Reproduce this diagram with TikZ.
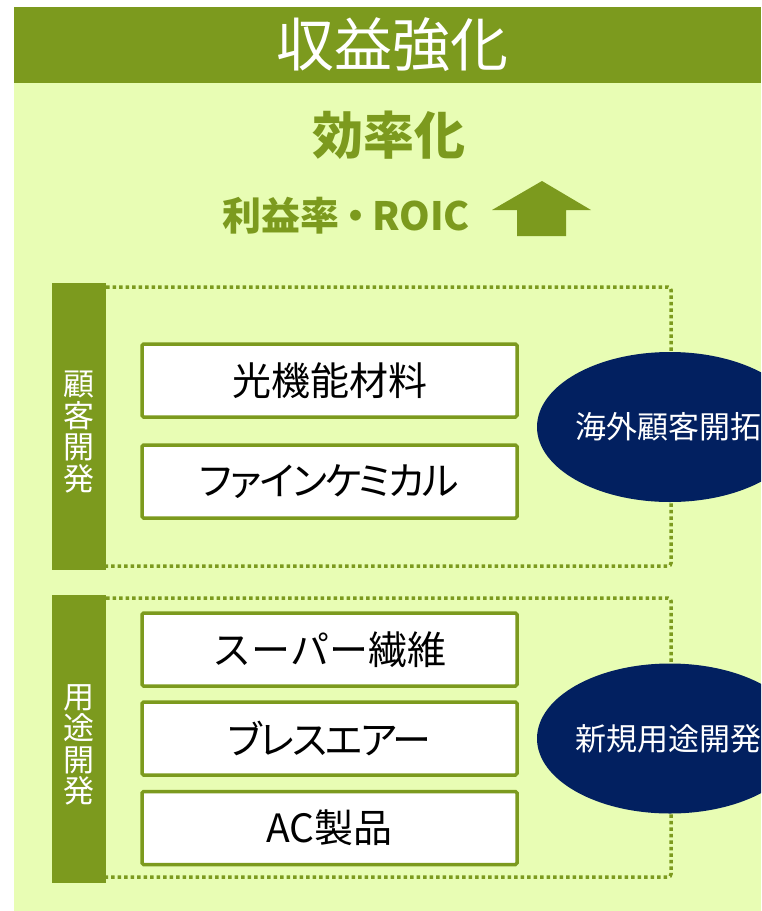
\documentclass[tikz,border=0pt]{standalone}
\usepackage{fontspec}
\setmainfont{Noto Sans CJK JP}
\newfontfamily\boxfont{Noto Sans CJK JP}
\newfontfamily\kanafont[RawFeature=+palt, LetterSpace=-5]{Noto Sans CJK JP}
\definecolor{olive}{RGB}{124,154,30}
\definecolor{pale}{RGB}{232,253,180}
\definecolor{navy}{RGB}{2,32,96}
\tikzset{
  itembox/.style={draw=olive, line width=3.5pt, fill=white, rounded corners=1.5pt,
    minimum width=375pt, minimum height=73pt, inner sep=0pt, text=black,
    font=\boxfont\fontsize{39}{42}\selectfont},
  kanabox/.style={itembox, font=\kanafont\fontsize{39}{42}\selectfont},
  sidebar/.style={fill=olive},
  sidetext/.style={text=white, align=center, inner sep=0pt,
    font=\fontsize{31}{31.5}\selectfont},
  frame/.style={draw=olive, line width=3.5pt, dash pattern=on 3.5pt off 3pt, rounded corners=3pt},
  oval/.style={ellipse, fill=navy, minimum width=266pt, minimum height=150pt, inner sep=0pt},
  ovaltext/.style={text=white, font=\fontsize{31}{33}\selectfont, inner sep=0pt},
  headtext/.style={text=olive, inner sep=0pt}
}
\usetikzlibrary{shapes.geometric}
\begin{document}
\begin{tikzpicture}[x=1pt, y=-1pt]
\useasboundingbox (0,0) rectangle (761,911);
\clip (0,0) rectangle (761,911);
% backgrounds
\fill[pale] (14,83) rectangle (761,911);
\fill[olive] (14,7) rectangle (761,83);
\node[text=white, font=\fontsize{58}{62}\selectfont, inner sep=0pt] (title) at (392,45) {収益強化};
\node[headtext, font=\bfseries\fontsize{51}{54}\selectfont] (eff) at (389,135) {効率化};
\node[headtext, font=\bfseries\fontsize{39}{42}\selectfont] (roic) at (346,216) {利益率\kern-3pt・\kern-3pt ROIC};
\fill[olive] (492,210) -- (542,181) -- (591,210) -- (566,210) -- (566,236) -- (517,236) -- (517,210) -- cycle;
% group 1
\draw[frame] (106,287) -- (671,287) -- (671,566) -- (106,566);
\fill[sidebar] (52,283) rectangle (106,570);
\node[sidetext] (g1) at (79,432) {顧\\客\\開\\発};
\node[itembox] (b1) at (329.5,380.5) {光機能材料};
\node[kanabox] (b2) at (329.5,481.5) {ファインケミカル};
\node[oval] (o1) at (670,427) {};
\node[ovaltext] (o1t) at (668,427) {海外顧客開拓};
% group 2
\draw[frame] (106,598) -- (671,598) -- (671,877) -- (106,877);
\fill[sidebar] (52,595) rectangle (106,883);
\node[sidetext] (g2) at (79,745) {用\\途\\開\\発};
\node[itembox] (b3) at (329.5,649.5) {スーパー繊維};
\node[kanabox] (b4) at (329.5,738.5) {ブレスエアー};
\node[itembox] (b5) at (329.5,828) {AC製品};
\node[oval] (o2) at (670,738.5) {};
\node[ovaltext] (o2t) at (668,738.5) {新規用途開発};
\end{tikzpicture}
\end{document}
